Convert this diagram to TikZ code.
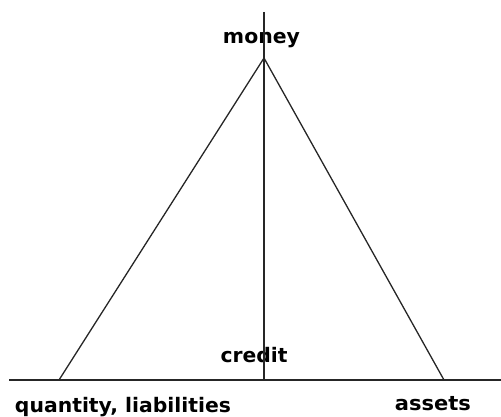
\documentclass[tikz,border=0pt]{standalone}
\usepackage{fontspec}
\setmainfont{DejaVu Sans}
\usepackage{graphicx}
\begin{document}
\begin{tikzpicture}[x=1pt,y=-1pt,
  lbl/.style={anchor=base,inner sep=0pt,font=\fontsize{20}{24}\selectfont\bfseries},
  ln/.style={line width=1.3pt,draw=black!85}]
\useasboundingbox (0,0) rectangle (501,417);
\node[lbl] (money) at (261.5,43.5) {\resizebox{77pt}{\height}{money}};
\node[lbl] (credit) at (254,362) {\resizebox{67pt}{\height}{credit}};
\node[lbl] (qty) at (123,412) {\resizebox{216pt}{\height}{quantity, liabilities}};
\node[lbl] (assets) at (433,410.5) {\resizebox{76pt}{\height}{assets}};
\coordinate (apex) at (264,58);
\coordinate (lfoot) at (59,380);
\coordinate (rfoot) at (444,380);
\coordinate (vtop) at (264,12);
\coordinate (vbot) at (264,380);
\coordinate (hl) at (9,380);
\coordinate (hr) at (501,380);
\draw[ln] (vtop) -- (vbot);
\draw[ln] (hl) -- (hr);
\draw[ln] (lfoot) -- (apex) -- (rfoot);
\end{tikzpicture}
\end{document}
